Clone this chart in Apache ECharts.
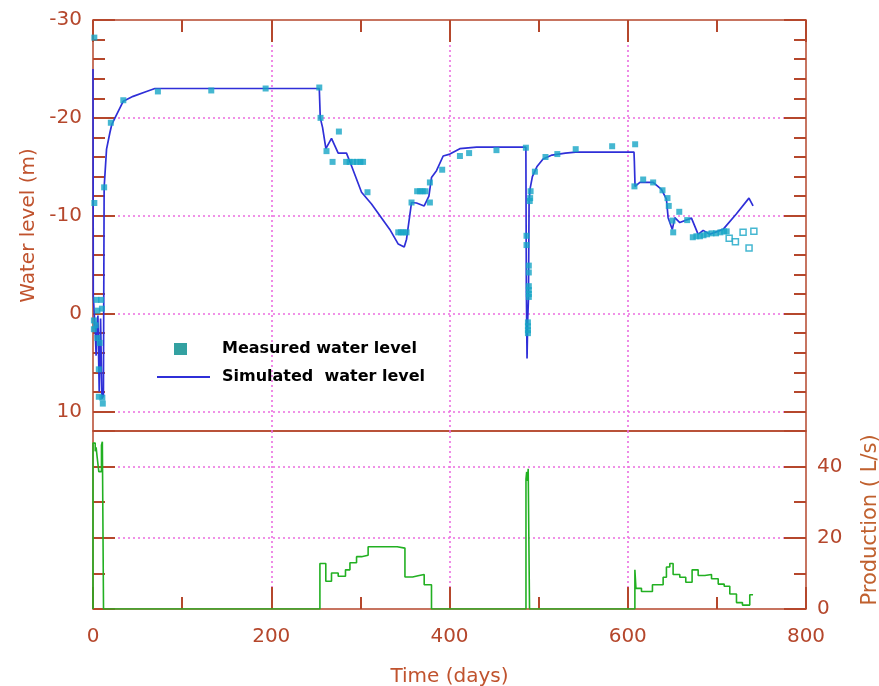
<!DOCTYPE html>
<html><head><meta charset="utf-8">
<script src="https://cdn.jsdelivr.net/npm/echarts@6/dist/echarts.min.js"></script>
<style>html,body{margin:0;padding:0;background:#fff}#c{width:879px;height:686px}</style>
</head><body><div id="c"></div>
<script>
// [day, water level (m)] — simulated curve
const simulated = [
  [0,-25],[0.3,-1.8],[2.5,1.7],[3.5,4.3],[4,1.7],[5.5,0.2],[7,8.0],[8.5,0.5],[10,8.7],[11.7,8.4],
  [12.5,-12.9],[15.2,-16.8],[19,-18.5],[21,-19.3],[24.7,-20],[34,-21.7],[45,-22.2],[60,-22.7],[69.5,-23.0],
  [253.9,-23.0],[255,-20.0],[257.6,-19.0],[261.3,-16.85],[267.6,-17.9],[275.1,-16.4],[284.4,-16.4],
  [290,-15.1],[301.3,-12.4],[312.5,-11.2],[333,-8.6],[342.5,-7.1],[349.2,-6.8],[351.8,-7.6],
  [357.4,-11.35],[363,-11.3],[371.6,-11.0],[376.9,-12.0],[379.8,-13.9],[385.4,-14.6],[392.9,-16.1],
  [400.4,-16.3],[411.6,-16.85],[430.4,-17.0],[485.7,-17.0],[486.2,-3],[487,4.6],[487.8,0.5],
  [488.6,-1.5],[489.3,-11.5],[490.5,-12.8],[493,-14.0],[498,-15.0],[505,-15.8],[515,-16.2],
  [530,-16.4],[541.6,-16.5],[607,-16.5],[607.4,-15.6],[608.2,-13.0],[613.6,-13.4],[628.5,-13.4],
  [637.8,-12.7],[643.4,-11.7],[645.3,-9.8],[650,-8.6],[652.8,-9.8],[658.4,-9.3],[671.5,-9.75],
  [679,-8.1],[684.6,-8.5],[692,-8.1],[707,-8.6],[722,-10.2],[736,-11.8],[740.6,-11.0]
];
// [day, water level (m)] — measured (filled squares)
const measured = [
  [1.5,-28.2],[1.5,-11.3],[12.5,-12.9],[20,-19.5],[34,-21.8],[72.8,-22.7],[132.7,-22.8],[193.7,-23.0],
  [1,0.7],[1,1.6],[3,1.2],[4,-1.4],[5,-0.3],[9,-1.4],[10,-0.5],[5,2.5],[7.5,3.0],[6.5,5.7],
  [6.5,8.5],[10.5,8.6],[11,9.2],
  [253.9,-23.1],[255.3,-20.0],[262,-16.6],[268.8,-15.5],[275.9,-18.6],[284,-15.5],[288,-15.5],
  [292,-15.5],[296,-15.5],[300,-15.5],[303,-15.5],[308,-12.4],[342.5,-8.3],[345.5,-8.3],
  [348.5,-8.3],[351.8,-8.3],[357.4,-11.35],[363.7,-12.5],[367,-12.5],[370,-12.5],[373.1,-12.5],
  [378,-11.35],[378,-13.4],[391.8,-14.7],[411.7,-16.1],[422,-16.4],[452.7,-16.7],[485.7,-16.95],
  [491,-12.5],[490,-11.5],[490.5,-11.8],[486.4,-7.95],[486.4,-7.0],[489,-4.9],[489,-4.2],
  [489,-2.8],[489,-2.4],[489,-2.0],[489,-1.7],[488,0.9],[488,1.3],[488,1.7],[488,2.0],
  [495.8,-14.5],[507.7,-16.0],[521,-16.3],[541.6,-16.8],[582.5,-17.1],[608.3,-17.3],
  [607.5,-13.0],[617.3,-13.7],[628.5,-13.4],[639,-12.6],[644.6,-11.8],[646,-11.0],[650.2,-9.5],
  [651,-8.3],[657.8,-10.4],[666.7,-9.55],[673,-7.8],[677,-7.9],[681,-7.9],[685,-8.0],[689,-8.1],
  [694,-8.2],[699,-8.2],[704,-8.3],[708,-8.4],[711,-8.4]
];
// [day, water level (m)] — measured (open squares)
const measuredOpen = [[713.8,-7.7],[720.8,-7.35],[729.4,-8.3],[736.1,-6.7],[741.5,-8.4]];
// [day, production (L/s)] — step values, each held until the next day
const production = [
  [0,0],[0,46.6],[2.5,44.3],[3.5,45.4],[4.5,43],[6.5,38.6],[9.5,46],[10.5,47],[11.8,0],
  [254.6,12.8],[261.2,7.8],[267.6,10.1],[275.1,9.2],[283.3,11.0],[288.3,13.0],[295.7,14.7],
  [301.3,15.1],[308.7,17.5],[341.3,17.1],[350,9.0],[358.6,9.4],[366,9.7],[371.6,6.8],[379.8,0],
  [485.8,36.5],[486.6,38.5],[487.4,36],[488.3,39.4],[489.8,0],
  [608,11.0],[609.2,5.8],[615.4,4.9],[627.7,6.8],[639.7,8.9],[643.4,11.8],[647.2,12.8],
  [650.9,9.7],[658.4,8.9],[665.1,7.5],[672.2,11.0],[679,9.4],[686.5,9.7],[694,8.5],[701.5,7.0],
  [708.2,6.4],[714.5,4.2],[722,1.8],[728.7,1.1],[736.9,4.0],[740.6,4.0]
];
const timeRange = [0, 800];
const levelRange = [-30, 12];
const productionRange = [0, 50];

const BROWN = '#b5472c', PINK = '#ec6ee0', BLUE = '#2f2fd8', CYAN = '#17a5c5', GREEN = '#22b022';
const FONT = 'DejaVu Sans';
const split = {show:true, showMinLine:false, showMaxLine:false, lineStyle:{color:PINK, type:[2,3], width:1.6}};
const tick = (len) => ({show:true, inside:true, length:len, lineStyle:{color:BROWN, width:2}});
const label = {color:BROWN, fontFamily:FONT, fontSize:20, margin:11, showMaxLabel:false};

function xAx(grid, pos, interval, len, extra) {
  return Object.assign({type:'value', gridIndex:grid, position:pos, min:timeRange[0], max:timeRange[1],
    interval:interval, axisLine:{show:false, onZero:false}, axisTick:tick(len), axisLabel:{show:false}, splitLine:{show:false}}, extra||{});
}
function yAx(grid, pos, range, inverse, interval, len, extra) {
  return Object.assign({type:'value', gridIndex:grid, position:pos, min:range[0], max:range[1], inverse:inverse,
    interval:interval, axisLine:{show:false, onZero:false}, axisTick:tick(len), axisLabel:{show:false}, splitLine:{show:false}}, extra||{});
}

const chart = echarts.init(document.getElementById('c'), null, {renderer:'canvas'});
chart.setOption({
  animation:false,
  backgroundColor:'#fff',
  grid:[
    {left:93, right:73, top:20, height:411, show:true, borderColor:BROWN, borderWidth:1.5, backgroundColor:'transparent', outerBoundsMode:'none', containLabel:false},
    {left:93, right:73, top:431, height:178, show:true, borderColor:BROWN, borderWidth:1.5, backgroundColor:'transparent', outerBoundsMode:'none', containLabel:false}
  ],
  xAxis:[
    xAx(0,'top',200,22,{splitLine:split}),
    xAx(0,'top',100,12),
    xAx(1,'bottom',200,22,{splitLine:split,
      axisLabel:Object.assign({}, label, {margin:18, showMaxLabel:true}),
      name:'Time (days)', nameLocation:'middle', nameGap:58,
      nameTextStyle:{color:'#c0532e', fontFamily:FONT, fontSize:20}}),
    xAx(1,'bottom',100,12)
  ],
  yAxis:[
    yAx(0,'left',levelRange,true,10,22,{splitLine:split, axisLabel:label,
      name:'Water level (m)', nameLocation:'middle', nameGap:54, nameRotate:90,
      nameTextStyle:{color:'#c0532e', fontFamily:FONT, fontSize:20}}),
    yAx(0,'left',levelRange,true,2,12),
    yAx(0,'right',levelRange,true,10,22),
    yAx(0,'right',levelRange,true,2,12),
    yAx(1,'left',productionRange,false,20,22,{splitLine:split}),
    yAx(1,'left',productionRange,false,10,12),
    yAx(1,'right',productionRange,false,20,22,{axisLabel:label,
      name:'Production ( L/s)', nameLocation:'middle', nameGap:54, nameRotate:90,
      nameTextStyle:{color:'#c0602e', fontFamily:FONT, fontSize:21}}),
    yAx(1,'right',productionRange,false,10,12)
  ],
  legend:[
    {data:[{name:'Measured water level', itemStyle:{color:'#008a8a'}}], left:169, top:336, itemWidth:13, itemHeight:12,
     icon:'rect', selectedMode:false,
     textStyle:{color:'#000', fontFamily:FONT, fontWeight:'bold', fontSize:16, padding:[0,0,0,30]}},
    {data:[{name:'Simulated  water level', icon:'rect'}], left:152, top:364, itemWidth:53, itemHeight:2, selectedMode:false,
     textStyle:{color:'#000', fontFamily:FONT, fontWeight:'bold', fontSize:16, padding:[0,0,0,7]}}
  ],
  series:[
    {name:'Simulated  water level', type:'line', xAxisIndex:0, yAxisIndex:0, data:simulated, symbol:'none',
     lineStyle:{color:BLUE, width:1.7}, itemStyle:{color:BLUE}, z:3},
    {name:'Measured water level', type:'scatter', xAxisIndex:0, yAxisIndex:0, data:measured, symbol:'rect',
     symbolSize:6, itemStyle:{color:CYAN}, clip:false, z:4},
    {name:'Measured (open)', type:'scatter', xAxisIndex:0, yAxisIndex:0, data:measuredOpen, symbol:'rect',
     symbolSize:6, itemStyle:{color:'#fff', borderColor:CYAN, borderWidth:1.5}, z:4},
    {name:'Production', type:'line', xAxisIndex:2, yAxisIndex:4, data:production, step:'end', symbol:'none',
     lineStyle:{color:GREEN, width:1.6}, itemStyle:{color:GREEN}, z:3}
  ]
});
</script>
</body></html>
